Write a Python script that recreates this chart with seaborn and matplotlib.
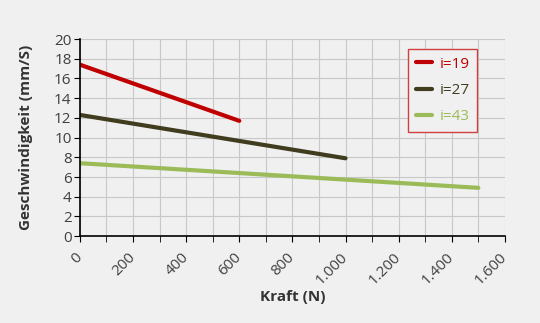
import seaborn as sns
import matplotlib.pyplot as plt
from matplotlib.ticker import MultipleLocator, FuncFormatter
import pandas as pd

# Werte
kraft_19 = [0, 600]
speed_19 = [17.4, 11.7]
kraft_27 = [0, 1000]
speed_27 = [12.3, 7.9]
kraft_43 = [0, 1500]
speed_43 = [7.4, 4.9]

labels = ['i=19', 'i=27', 'i=43']
colors = ['#c00000', '#403c1e', '#9bbb59']

df = pd.concat([
    pd.DataFrame({'kraft': kraft_19, 'speed': speed_19, 'serie': labels[0]}),
    pd.DataFrame({'kraft': kraft_27, 'speed': speed_27, 'serie': labels[1]}),
    pd.DataFrame({'kraft': kraft_43, 'speed': speed_43, 'serie': labels[2]}),
])

sns.set_style('whitegrid')
plt.rcParams['font.family'] = ['Open Sans', 'DejaVu Sans']

fig = plt.figure(figsize=(5.4, 3.23), dpi=100)
fig.patch.set_facecolor('#f0f0f0')
ax = fig.add_axes([0.148, 0.269, 0.787, 0.61])
ax.set_facecolor('#f0f0f0')

sns.lineplot(data=df, x='kraft', y='speed', hue='serie', palette=colors,
             linewidth=3, ax=ax, legend=False)

ax.set_xlim(0, 1600)
ax.set_ylim(0, 20)
ax.xaxis.set_major_locator(MultipleLocator(200))
ax.xaxis.set_minor_locator(MultipleLocator(100))
ax.yaxis.set_major_locator(MultipleLocator(2))
ax.xaxis.set_major_formatter(FuncFormatter(lambda v, p: f'{int(v):,}'.replace(',', '.')))

ax.grid(True, which='both', color='#c8c8c8', linewidth=0.8)
for s in ['top', 'right']:
    ax.spines[s].set_visible(False)
for s in ['left', 'bottom']:
    ax.spines[s].set_color('black')
    ax.spines[s].set_linewidth(1.2)

ax.tick_params(axis='both', which='both', direction='out', length=4, color='black',
               labelsize=11, labelcolor='#404040', bottom=True, left=True)
ax.tick_params(axis='y', pad=2)
ax.tick_params(axis='x', pad=10)
plt.setp(ax.get_xticklabels(), rotation=45, ha='right', va='center', rotation_mode='anchor')

ax.set_xlabel('Kraft (N)', fontsize=11, fontweight='bold', color='#333333', labelpad=1)
ax.set_ylabel('Geschwindigkeit (mm/S)', fontsize=11, fontweight='bold', color='#333333',
              labelpad=15)

leg_handles = [plt.Line2D([0], [0], color=c, linewidth=3) for c in colors]
leg = ax.legend(leg_handles, labels, loc='upper left', bbox_to_anchor=(0.772, 0.95),
                borderaxespad=0, frameon=True, fancybox=False, fontsize=11,
                handlelength=1.1, labelspacing=0.75, borderpad=0.5, handletextpad=0.45)
leg.get_frame().set_edgecolor('#d04040')
leg.get_frame().set_facecolor('#f0f0f0')
leg.get_frame().set_alpha(1)
for t, c in zip(leg.get_texts(), colors):
    t.set_color(c)

fig.savefig('out.png', dpi=100, facecolor=fig.get_facecolor())
